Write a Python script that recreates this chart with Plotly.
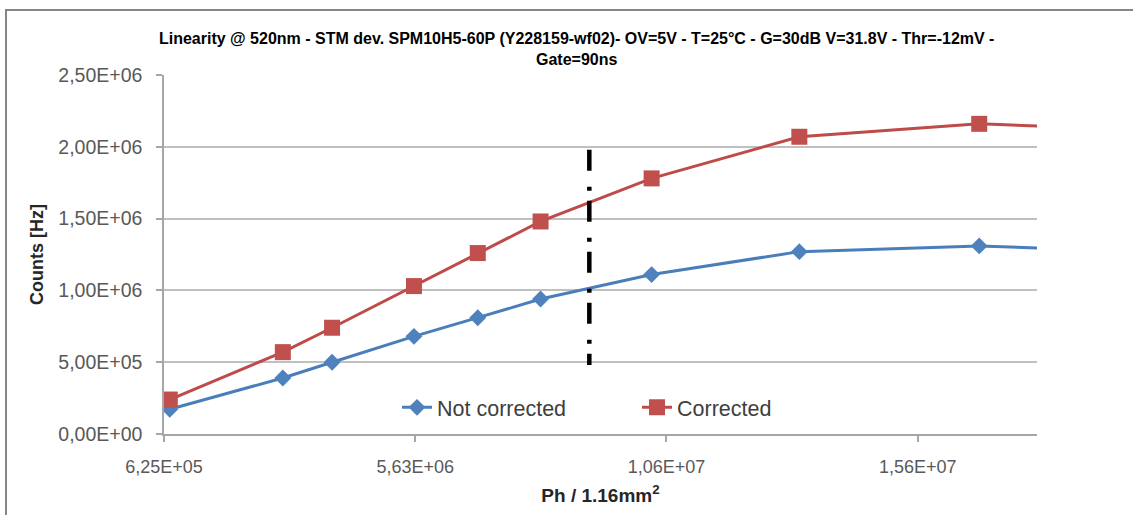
import plotly.graph_objects as go

# ---- data ----
photons = [0.74e6, 2.99e6, 3.97e6, 5.60e6, 6.87e6, 8.12e6, 10.33e6, 13.27e6, 16.85e6, 20.0e6]
not_corrected = [1.72e5, 3.90e5, 5.00e5, 6.80e5, 8.10e5, 9.40e5, 1.11e6, 1.27e6, 1.31e6, 1.27e6]
corrected = [2.40e5, 5.70e5, 7.40e5, 1.03e6, 1.26e6, 1.48e6, 1.78e6, 2.07e6, 2.16e6, 2.12e6]

threshold_x = [9.09e6, 9.09e6]
threshold_y = [1.98e6, 0.48e6]

x_tickvals = [6.25e5, 5.625e6, 1.0625e7, 1.5625e7]
x_ticktext = ["6,25E+05", "5,63E+06", "1,06E+07", "1,56E+07"]
y_tickvals = [0, 5e5, 1e6, 1.5e6, 2e6, 2.5e6]
y_ticktext = ["0,00E+00", "5,00E+05", "1,00E+06", "1,50E+06", "2,00E+06", "2,50E+06"]

title_text = ("Linearity @ 520nm - STM dev. SPM10H5-60P (Y228159-wf02)- OV=5V - T=25°C - "
              "G=30dB V=31.8V - Thr=-12mV -<br>Gate=90ns")

FONT = "Liberation Sans, Arial, sans-serif"
W, H = 1133, 515
L, R, T, B = 164, 96, 75, 76
pw, ph = W - L - R, H - T - B

fig = go.Figure()
fig.add_trace(go.Scatter(
    x=photons, y=not_corrected, name="Not corrected", mode="lines+markers",
    line=dict(color="#4A7EBB", width=3),
    marker=dict(symbol="diamond", size=13, color="#4F81BD"),
))
fig.add_trace(go.Scatter(
    x=photons, y=corrected, name="Corrected", mode="lines+markers",
    line=dict(color="#BE4B48", width=3),
    marker=dict(symbol="square", size=16, color="#C0504D"),
))
fig.add_trace(go.Scatter(
    x=threshold_x, y=threshold_y, mode="lines", showlegend=False,
    line=dict(color="black", width=4.5, dash="21px,16px,4px,10px"),
    hoverinfo="skip",
))

# helpers converting page pixels (reference picture) to paper coordinates
def px2paper_x(p):
    return (p - L) / pw

def px2paper_y(p):
    return (H - B - p) / ph

fig.update_layout(
    width=W, height=H,
    margin=dict(l=L, r=R, t=T, b=B),
    paper_bgcolor="white", plot_bgcolor="white",
    font=dict(family=FONT, color="#595959"),
    title=dict(text="<b>" + title_text + "</b>", x=0.509, xanchor="center",
               y=1 - 44 / H, yanchor="middle",
               font=dict(size=16, color="#000000", family=FONT)),
    xaxis=dict(
        range=[6.25e5, 1.8e7], tickvals=x_tickvals, ticktext=x_ticktext,
        showgrid=False, zeroline=False,
        showline=True, linecolor="#a6a6a6", linewidth=1.5,
        ticks="outside", ticklen=6, tickcolor="#a6a6a6", tickwidth=1.5,
        tickfont=dict(size=18, color="#595959"), ticklabelstandoff=10,
        title=dict(text="<b>Ph / 1.16mm<sup>2</sup></b>", standoff=12,
                   font=dict(size=19, color="#262626")),
    ),
    yaxis=dict(
        range=[0, 2.5e6], tickvals=y_tickvals, ticktext=y_ticktext,
        showgrid=True, gridcolor="#c0c0c0", gridwidth=1.5, zeroline=False,
        showline=True, linecolor="#a6a6a6", linewidth=1.5,
        ticks="outside", ticklen=6, tickcolor="#a6a6a6", tickwidth=1.5,
        tickfont=dict(size=19.5, color="#595959"), ticklabelstandoff=10,
        title=dict(text="<b>Counts [Hz]</b>", standoff=10,
                   font=dict(size=18, color="#262626")),
    ),
    legend=dict(orientation="h", x=px2paper_x(397), xanchor="left",
                y=px2paper_y(412), yanchor="middle",
                font=dict(size=21.5, color="#404040"), bgcolor="rgba(0,0,0,0)",
                entrywidth=195, entrywidthmode="pixels"),
    shapes=[dict(type="rect", xref="paper", yref="paper",
                 x0=px2paper_x(6), x1=px2paper_x(1145),
                 y0=px2paper_y(530), y1=px2paper_y(9),
                 line=dict(color="#868686", width=2), layer="below")],
)

fig.write_html("out.html", config={"displayModeBar": False},
               post_script="document.body.style.margin='0';document.body.style.overflow='hidden';")
